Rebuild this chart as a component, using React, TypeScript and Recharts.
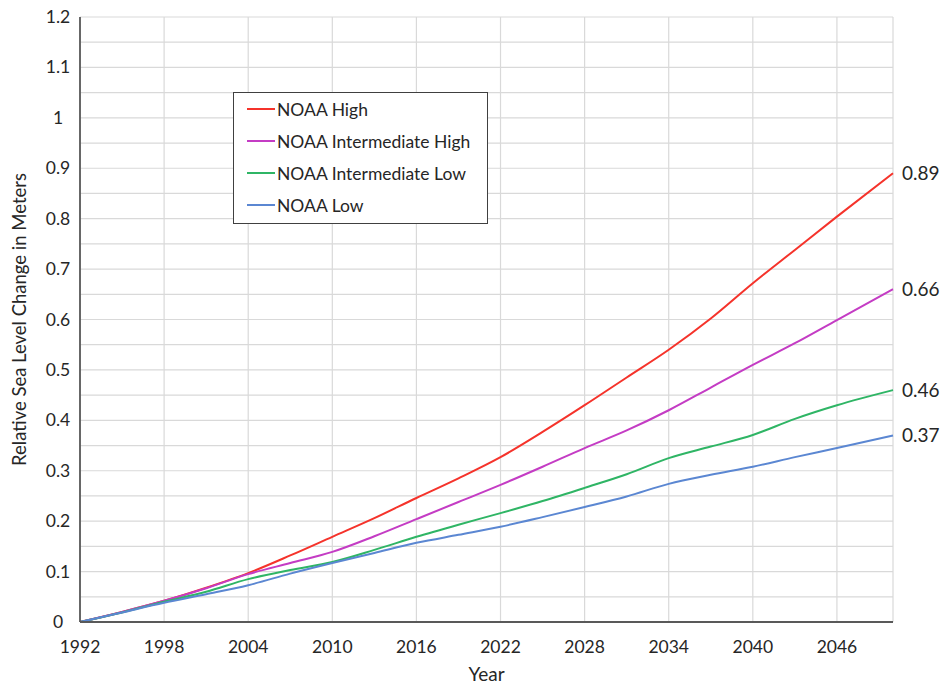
import React from 'react';
import { LineChart, Line, XAxis, YAxis, CartesianGrid, Legend } from 'recharts';

document.body.style.margin = '0';

const years = [1992, 1995, 1998, 2001, 2004, 2007, 2010, 2013, 2016, 2019, 2022, 2025, 2028, 2031, 2034, 2037, 2040, 2043, 2046, 2050];
const noaaHigh = [0, 0.02, 0.042, 0.068, 0.097, 0.132, 0.169, 0.206, 0.246, 0.285, 0.327, 0.377, 0.43, 0.485, 0.54, 0.602, 0.672, 0.738, 0.804, 0.89];
const noaaIntHigh = [0, 0.02, 0.042, 0.067, 0.095, 0.117, 0.139, 0.17, 0.204, 0.238, 0.272, 0.308, 0.345, 0.38, 0.42, 0.465, 0.51, 0.553, 0.599, 0.66];
const noaaIntLow = [0, 0.019, 0.04, 0.06, 0.085, 0.103, 0.119, 0.143, 0.169, 0.193, 0.216, 0.24, 0.266, 0.293, 0.325, 0.348, 0.371, 0.403, 0.43, 0.46];
const noaaLow = [0, 0.019, 0.038, 0.055, 0.073, 0.096, 0.117, 0.137, 0.157, 0.173, 0.189, 0.208, 0.228, 0.249, 0.274, 0.292, 0.308, 0.327, 0.345, 0.37];

const xTicks = [1992, 1998, 2004, 2010, 2016, 2022, 2028, 2034, 2040, 2046];
const yTicks = [0, 0.05, 0.1, 0.15, 0.2, 0.25, 0.3, 0.35, 0.4, 0.45, 0.5, 0.55, 0.6, 0.65, 0.7, 0.75, 0.8, 0.85, 0.9, 0.95, 1, 1.05, 1.1, 1.15, 1.2];
const yLabels = ['0', '0.1', '0.2', '0.3', '0.4', '0.5', '0.6', '0.7', '0.8', '0.9', '1', '1.1', '1.2'];

const data = years.map((year, i) => ({
  year,
  high: noaaHigh[i],
  intHigh: noaaIntHigh[i],
  intLow: noaaIntLow[i],
  low: noaaLow[i],
}));

const FONT = 'Lato, "Open Sans", sans-serif';
const TEXT = '#262626';
const last = years.length - 1;

const YTick = (props: any) => {
  const { x, y, payload } = props;
  const v = payload.value;
  const idx = Math.round(v * 10);
  if (Math.abs(v * 10 - idx) > 0.001) return null;
  return (
    <text x={x - 14} y={y} dy={6} textAnchor="middle" fill={TEXT} fontSize={17.5} fontFamily={FONT}>
      {yLabels[idx]}
    </text>
  );
};

const EndLabel = (props: any) => {
  const { x, y, index, value } = props;
  if (index !== last) return null;
  return (
    <text x={x + 9} y={y} dy={7} fill={TEXT} fontSize={19} fontFamily={FONT}>
      {value}
    </text>
  );
};

const LegendBox = (props: any) => {
  const { payload } = props;
  return (
    <div
      style={{
        background: '#fff',
        border: '1.5px solid #404040',
        padding: '0px 10px 2px 13px',
        fontFamily: FONT,
        fontSize: 17.5,
        color: TEXT,
        width: 230,
      }}
    >
      {payload.map((p: any) => (
        <div key={p.value} style={{ display: 'flex', alignItems: 'center', height: 32 }}>
          <span style={{ display: 'inline-block', width: 28, height: 2, background: p.color, marginRight: 2 }} />
          <span>{p.value}</span>
        </div>
      ))}
    </div>
  );
};

export default function App() {
  return (
    <LineChart width={945} height={687} data={data} margin={{ top: 17, right: 52, bottom: 0, left: 0 }}>
      <CartesianGrid stroke="#d9d9d9" strokeWidth={1.2} />
      <XAxis
        dataKey="year"
        type="number"
        domain={[1992, 2050]}
        ticks={xTicks}
        interval={0}
        height={65}
        tickLine={false}
        tickMargin={13}
        axisLine={{ stroke: '#595959', strokeWidth: 1.8 }}
        tick={{ fill: TEXT, fontSize: 17.5, fontFamily: FONT }}
        label={{ value: 'Year', position: 'insideBottom', offset: 6, fill: TEXT, fontSize: 19, fontFamily: FONT }}
      />
      <XAxis xAxisId="top" orientation="top" type="number" domain={[1992, 2050]} height={0} tick={false} tickLine={false} axisLine={{ stroke: '#595959', strokeWidth: 1.8 }} />
      <YAxis
        type="number"
        domain={[0, 1.2]}
        ticks={yTicks}
        interval={0}
        width={80}
        tickLine={false}
        axisLine={{ stroke: '#595959', strokeWidth: 1.8 }}
        tick={<YTick />}
        label={{ value: 'Relative Sea Level Change in Meters', angle: -90, position: 'insideLeft', offset: 19, style: { textAnchor: 'middle' }, fill: TEXT, fontSize: 18.5, fontFamily: FONT }}
      />
      <YAxis yAxisId="right" orientation="right" type="number" domain={[0, 1.2]} width={0} tick={false} tickLine={false} axisLine={{ stroke: '#595959', strokeWidth: 1.8 }} />
      <Legend
        layout="horizontal"
        verticalAlign="middle"
        content={<LegendBox />}
        wrapperStyle={{ position: 'absolute', left: 233, top: 92, width: 'auto' }}
      />
      <Line dataKey="high" name="NOAA High" stroke="#f5332b" strokeWidth={2} dot={false} type="monotone" isAnimationActive={false} label={<EndLabel />} />
      <Line dataKey="intHigh" name="NOAA Intermediate High" stroke="#c43cc4" strokeWidth={2} dot={false} type="monotone" isAnimationActive={false} label={<EndLabel />} />
      <Line dataKey="intLow" name="NOAA Intermediate Low" stroke="#2fb565" strokeWidth={2} dot={false} type="monotone" isAnimationActive={false} label={<EndLabel />} />
      <Line dataKey="low" name="NOAA Low" stroke="#5b87d2" strokeWidth={2} dot={false} type="monotone" isAnimationActive={false} label={<EndLabel />} />
    </LineChart>
  );
}
